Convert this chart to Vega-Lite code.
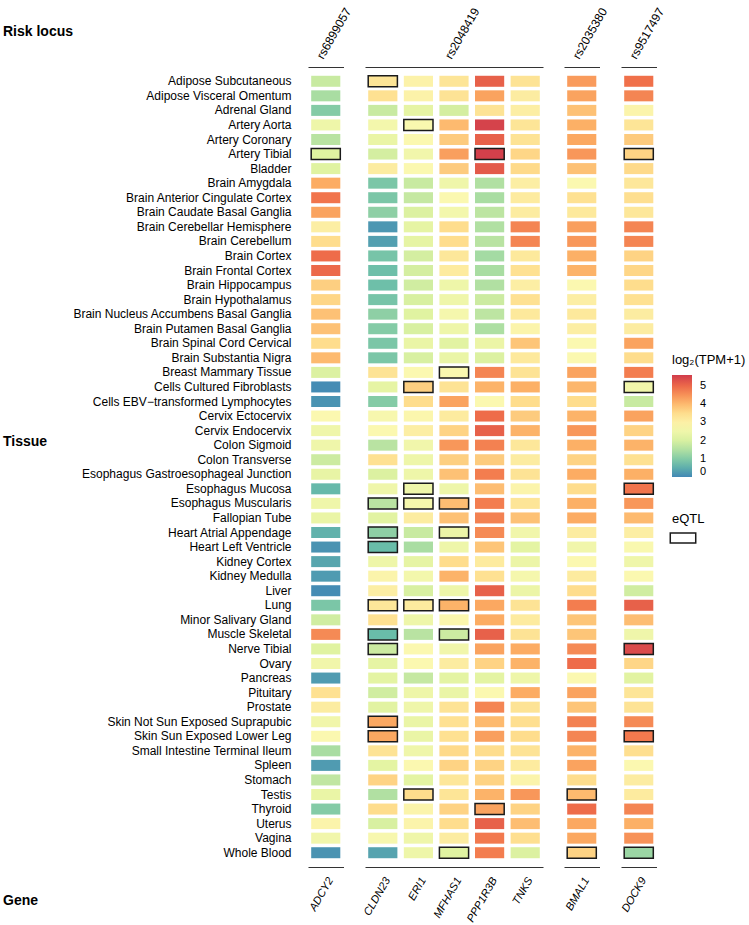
{
"$schema":"https://vega.github.io/schema/vega-lite/v6.json",
"padding":{"left":2,"top":5,"right":0,"bottom":0},
"config":{"font":"Liberation Sans","view":{"stroke":null},"axis":{"labelColor":"#000","titleColor":"#000","domainColor":"#333","labelFontSize":12},"legend":{"titleColor":"#000","labelColor":"#000"}},
"datasets":{
"loci":[{"gene":"ADCY2","locus":"rs6899057"},{"gene":"CLDN23","locus":"rs2048419"},{"gene":"ERI1","locus":"rs2048419"},{"gene":"MFHAS1","locus":"rs2048419"},{"gene":"PPP1R3B","locus":"rs2048419"},{"gene":"TNKS","locus":"rs2048419"},{"gene":"BMAL1","locus":"rs2035380"},{"gene":"DOCK9","locus":"rs9517497"}],
"eqtl":[{"tissue":"Adipose Subcutaneous","gene":"CLDN23"},{"tissue":"Artery Aorta","gene":"ERI1"},{"tissue":"Artery Tibial","gene":"ADCY2"},{"tissue":"Artery Tibial","gene":"PPP1R3B"},{"tissue":"Artery Tibial","gene":"DOCK9"},{"tissue":"Breast Mammary Tissue","gene":"MFHAS1"},{"tissue":"Cells Cultured Fibroblasts","gene":"ERI1"},{"tissue":"Cells Cultured Fibroblasts","gene":"DOCK9"},{"tissue":"Esophagus Mucosa","gene":"ERI1"},{"tissue":"Esophagus Mucosa","gene":"DOCK9"},{"tissue":"Esophagus Muscularis","gene":"CLDN23"},{"tissue":"Esophagus Muscularis","gene":"ERI1"},{"tissue":"Esophagus Muscularis","gene":"MFHAS1"},{"tissue":"Heart Atrial Appendage","gene":"CLDN23"},{"tissue":"Heart Atrial Appendage","gene":"MFHAS1"},{"tissue":"Heart Left Ventricle","gene":"CLDN23"},{"tissue":"Lung","gene":"CLDN23"},{"tissue":"Lung","gene":"ERI1"},{"tissue":"Lung","gene":"MFHAS1"},{"tissue":"Muscle Skeletal","gene":"CLDN23"},{"tissue":"Muscle Skeletal","gene":"MFHAS1"},{"tissue":"Nerve Tibial","gene":"CLDN23"},{"tissue":"Nerve Tibial","gene":"DOCK9"},{"tissue":"Skin Not Sun Exposed Suprapubic","gene":"CLDN23"},{"tissue":"Skin Sun Exposed Lower Leg","gene":"CLDN23"},{"tissue":"Skin Sun Exposed Lower Leg","gene":"DOCK9"},{"tissue":"Testis","gene":"ERI1"},{"tissue":"Testis","gene":"BMAL1"},{"tissue":"Thyroid","gene":"PPP1R3B"},{"tissue":"Whole Blood","gene":"MFHAS1"},{"tissue":"Whole Blood","gene":"BMAL1"},{"tissue":"Whole Blood","gene":"DOCK9"}],
"expr":[
{"tissue":"Adipose Subcutaneous","gene":"ADCY2","value":1.8},{"tissue":"Adipose Subcutaneous","gene":"CLDN23","value":3.3},{"tissue":"Adipose Subcutaneous","gene":"ERI1","value":2.95},{"tissue":"Adipose Subcutaneous","gene":"MFHAS1","value":3.3},{"tissue":"Adipose Subcutaneous","gene":"PPP1R3B","value":5.1},{"tissue":"Adipose Subcutaneous","gene":"TNKS","value":3.35},{"tissue":"Adipose Subcutaneous","gene":"BMAL1","value":4.4},{"tissue":"Adipose Subcutaneous","gene":"DOCK9","value":4.9},
{"tissue":"Adipose Visceral Omentum","gene":"ADCY2","value":1.4},{"tissue":"Adipose Visceral Omentum","gene":"CLDN23","value":3.4},{"tissue":"Adipose Visceral Omentum","gene":"ERI1","value":2.95},{"tissue":"Adipose Visceral Omentum","gene":"MFHAS1","value":3.35},{"tissue":"Adipose Visceral Omentum","gene":"PPP1R3B","value":4.3},{"tissue":"Adipose Visceral Omentum","gene":"TNKS","value":3.1},{"tissue":"Adipose Visceral Omentum","gene":"BMAL1","value":4.3},{"tissue":"Adipose Visceral Omentum","gene":"DOCK9","value":4.65},
{"tissue":"Adrenal Gland","gene":"ADCY2","value":1.0},{"tissue":"Adrenal Gland","gene":"CLDN23","value":1.8},{"tissue":"Adrenal Gland","gene":"ERI1","value":2.25},{"tissue":"Adrenal Gland","gene":"MFHAS1","value":1.95},{"tissue":"Adrenal Gland","gene":"PPP1R3B","value":3.35},{"tissue":"Adrenal Gland","gene":"TNKS","value":3.05},{"tissue":"Adrenal Gland","gene":"BMAL1","value":3.9},{"tissue":"Adrenal Gland","gene":"DOCK9","value":2.9},
{"tissue":"Artery Aorta","gene":"ADCY2","value":2.45},{"tissue":"Artery Aorta","gene":"CLDN23","value":2.6},{"tissue":"Artery Aorta","gene":"ERI1","value":2.75},{"tissue":"Artery Aorta","gene":"MFHAS1","value":4.0},{"tissue":"Artery Aorta","gene":"PPP1R3B","value":5.5},{"tissue":"Artery Aorta","gene":"TNKS","value":3.3},{"tissue":"Artery Aorta","gene":"BMAL1","value":4.15},{"tissue":"Artery Aorta","gene":"DOCK9","value":3.3},
{"tissue":"Artery Coronary","gene":"ADCY2","value":1.6},{"tissue":"Artery Coronary","gene":"CLDN23","value":2.35},{"tissue":"Artery Coronary","gene":"ERI1","value":2.8},{"tissue":"Artery Coronary","gene":"MFHAS1","value":3.75},{"tissue":"Artery Coronary","gene":"PPP1R3B","value":5.1},{"tissue":"Artery Coronary","gene":"TNKS","value":3.35},{"tissue":"Artery Coronary","gene":"BMAL1","value":4.25},{"tissue":"Artery Coronary","gene":"DOCK9","value":3.75},
{"tissue":"Artery Tibial","gene":"ADCY2","value":2.1},{"tissue":"Artery Tibial","gene":"CLDN23","value":1.95},{"tissue":"Artery Tibial","gene":"ERI1","value":2.55},{"tissue":"Artery Tibial","gene":"MFHAS1","value":4.35},{"tissue":"Artery Tibial","gene":"PPP1R3B","value":5.55},{"tissue":"Artery Tibial","gene":"TNKS","value":3.6},{"tissue":"Artery Tibial","gene":"BMAL1","value":4.45},{"tissue":"Artery Tibial","gene":"DOCK9","value":3.65},
{"tissue":"Bladder","gene":"ADCY2","value":2.1},{"tissue":"Bladder","gene":"CLDN23","value":3.1},{"tissue":"Bladder","gene":"ERI1","value":2.8},{"tissue":"Bladder","gene":"MFHAS1","value":3.75},{"tissue":"Bladder","gene":"PPP1R3B","value":5.2},{"tissue":"Bladder","gene":"TNKS","value":3.55},{"tissue":"Bladder","gene":"BMAL1","value":3.9},{"tissue":"Bladder","gene":"DOCK9","value":3.55},
{"tissue":"Brain Amygdala","gene":"ADCY2","value":4.2},{"tissue":"Brain Amygdala","gene":"CLDN23","value":0.9},{"tissue":"Brain Amygdala","gene":"ERI1","value":1.8},{"tissue":"Brain Amygdala","gene":"MFHAS1","value":2.5},{"tissue":"Brain Amygdala","gene":"PPP1R3B","value":1.5},{"tissue":"Brain Amygdala","gene":"TNKS","value":3.05},{"tissue":"Brain Amygdala","gene":"BMAL1","value":2.8},{"tissue":"Brain Amygdala","gene":"DOCK9","value":3.25},
{"tissue":"Brain Anterior Cingulate Cortex","gene":"ADCY2","value":4.85},{"tissue":"Brain Anterior Cingulate Cortex","gene":"CLDN23","value":0.9},{"tissue":"Brain Anterior Cingulate Cortex","gene":"ERI1","value":1.75},{"tissue":"Brain Anterior Cingulate Cortex","gene":"MFHAS1","value":2.8},{"tissue":"Brain Anterior Cingulate Cortex","gene":"PPP1R3B","value":1.4},{"tissue":"Brain Anterior Cingulate Cortex","gene":"TNKS","value":3.15},{"tissue":"Brain Anterior Cingulate Cortex","gene":"BMAL1","value":3.4},{"tissue":"Brain Anterior Cingulate Cortex","gene":"DOCK9","value":3.45},
{"tissue":"Brain Caudate Basal Ganglia","gene":"ADCY2","value":4.3},{"tissue":"Brain Caudate Basal Ganglia","gene":"CLDN23","value":1.1},{"tissue":"Brain Caudate Basal Ganglia","gene":"ERI1","value":2.05},{"tissue":"Brain Caudate Basal Ganglia","gene":"MFHAS1","value":2.6},{"tissue":"Brain Caudate Basal Ganglia","gene":"PPP1R3B","value":1.65},{"tissue":"Brain Caudate Basal Ganglia","gene":"TNKS","value":3.1},{"tissue":"Brain Caudate Basal Ganglia","gene":"BMAL1","value":3.2},{"tissue":"Brain Caudate Basal Ganglia","gene":"DOCK9","value":3.25},
{"tissue":"Brain Cerebellar Hemisphere","gene":"ADCY2","value":3.05},{"tissue":"Brain Cerebellar Hemisphere","gene":"CLDN23","value":0.2},{"tissue":"Brain Cerebellar Hemisphere","gene":"ERI1","value":2.25},{"tissue":"Brain Cerebellar Hemisphere","gene":"MFHAS1","value":3.5},{"tissue":"Brain Cerebellar Hemisphere","gene":"PPP1R3B","value":1.5},{"tissue":"Brain Cerebellar Hemisphere","gene":"TNKS","value":4.65},{"tissue":"Brain Cerebellar Hemisphere","gene":"BMAL1","value":4.35},{"tissue":"Brain Cerebellar Hemisphere","gene":"DOCK9","value":4.65},
{"tissue":"Brain Cerebellum","gene":"ADCY2","value":3.5},{"tissue":"Brain Cerebellum","gene":"CLDN23","value":0.3},{"tissue":"Brain Cerebellum","gene":"ERI1","value":2.25},{"tissue":"Brain Cerebellum","gene":"MFHAS1","value":3.5},{"tissue":"Brain Cerebellum","gene":"PPP1R3B","value":1.6},{"tissue":"Brain Cerebellum","gene":"TNKS","value":4.65},{"tissue":"Brain Cerebellum","gene":"BMAL1","value":4.45},{"tissue":"Brain Cerebellum","gene":"DOCK9","value":4.65},
{"tissue":"Brain Cortex","gene":"ADCY2","value":4.95},{"tissue":"Brain Cortex","gene":"CLDN23","value":0.85},{"tissue":"Brain Cortex","gene":"ERI1","value":1.95},{"tissue":"Brain Cortex","gene":"MFHAS1","value":3.25},{"tissue":"Brain Cortex","gene":"PPP1R3B","value":1.35},{"tissue":"Brain Cortex","gene":"TNKS","value":3.2},{"tissue":"Brain Cortex","gene":"BMAL1","value":4.15},{"tissue":"Brain Cortex","gene":"DOCK9","value":3.65},
{"tissue":"Brain Frontal Cortex","gene":"ADCY2","value":5.0},{"tissue":"Brain Frontal Cortex","gene":"CLDN23","value":0.75},{"tissue":"Brain Frontal Cortex","gene":"ERI1","value":1.95},{"tissue":"Brain Frontal Cortex","gene":"MFHAS1","value":3.15},{"tissue":"Brain Frontal Cortex","gene":"PPP1R3B","value":1.4},{"tissue":"Brain Frontal Cortex","gene":"TNKS","value":3.4},{"tissue":"Brain Frontal Cortex","gene":"BMAL1","value":4.1},{"tissue":"Brain Frontal Cortex","gene":"DOCK9","value":3.6},
{"tissue":"Brain Hippocampus","gene":"ADCY2","value":3.7},{"tissue":"Brain Hippocampus","gene":"CLDN23","value":0.75},{"tissue":"Brain Hippocampus","gene":"ERI1","value":1.9},{"tissue":"Brain Hippocampus","gene":"MFHAS1","value":2.45},{"tissue":"Brain Hippocampus","gene":"PPP1R3B","value":1.5},{"tissue":"Brain Hippocampus","gene":"TNKS","value":3.05},{"tissue":"Brain Hippocampus","gene":"BMAL1","value":2.8},{"tissue":"Brain Hippocampus","gene":"DOCK9","value":3.5},
{"tissue":"Brain Hypothalamus","gene":"ADCY2","value":3.6},{"tissue":"Brain Hypothalamus","gene":"CLDN23","value":0.85},{"tissue":"Brain Hypothalamus","gene":"ERI1","value":2.0},{"tissue":"Brain Hypothalamus","gene":"MFHAS1","value":2.5},{"tissue":"Brain Hypothalamus","gene":"PPP1R3B","value":1.85},{"tissue":"Brain Hypothalamus","gene":"TNKS","value":3.4},{"tissue":"Brain Hypothalamus","gene":"BMAL1","value":3.05},{"tissue":"Brain Hypothalamus","gene":"DOCK9","value":3.4},
{"tissue":"Brain Nucleus Accumbens Basal Ganglia","gene":"ADCY2","value":3.9},{"tissue":"Brain Nucleus Accumbens Basal Ganglia","gene":"CLDN23","value":1.1},{"tissue":"Brain Nucleus Accumbens Basal Ganglia","gene":"ERI1","value":2.1},{"tissue":"Brain Nucleus Accumbens Basal Ganglia","gene":"MFHAS1","value":2.65},{"tissue":"Brain Nucleus Accumbens Basal Ganglia","gene":"PPP1R3B","value":1.65},{"tissue":"Brain Nucleus Accumbens Basal Ganglia","gene":"TNKS","value":3.2},{"tissue":"Brain Nucleus Accumbens Basal Ganglia","gene":"BMAL1","value":3.2},{"tissue":"Brain Nucleus Accumbens Basal Ganglia","gene":"DOCK9","value":3.1},
{"tissue":"Brain Putamen Basal Ganglia","gene":"ADCY2","value":3.9},{"tissue":"Brain Putamen Basal Ganglia","gene":"CLDN23","value":1.0},{"tissue":"Brain Putamen Basal Ganglia","gene":"ERI1","value":2.0},{"tissue":"Brain Putamen Basal Ganglia","gene":"MFHAS1","value":2.45},{"tissue":"Brain Putamen Basal Ganglia","gene":"PPP1R3B","value":1.45},{"tissue":"Brain Putamen Basal Ganglia","gene":"TNKS","value":2.9},{"tissue":"Brain Putamen Basal Ganglia","gene":"BMAL1","value":3.05},{"tissue":"Brain Putamen Basal Ganglia","gene":"DOCK9","value":3.1},
{"tissue":"Brain Spinal Cord Cervical","gene":"ADCY2","value":3.5},{"tissue":"Brain Spinal Cord Cervical","gene":"CLDN23","value":0.9},{"tissue":"Brain Spinal Cord Cervical","gene":"ERI1","value":2.35},{"tissue":"Brain Spinal Cord Cervical","gene":"MFHAS1","value":2.15},{"tissue":"Brain Spinal Cord Cervical","gene":"PPP1R3B","value":2.4},{"tissue":"Brain Spinal Cord Cervical","gene":"TNKS","value":3.85},{"tissue":"Brain Spinal Cord Cervical","gene":"BMAL1","value":2.8},{"tissue":"Brain Spinal Cord Cervical","gene":"DOCK9","value":4.3},
{"tissue":"Brain Substantia Nigra","gene":"ADCY2","value":4.0},{"tissue":"Brain Substantia Nigra","gene":"CLDN23","value":0.9},{"tissue":"Brain Substantia Nigra","gene":"ERI1","value":2.0},{"tissue":"Brain Substantia Nigra","gene":"MFHAS1","value":2.35},{"tissue":"Brain Substantia Nigra","gene":"PPP1R3B","value":2.05},{"tissue":"Brain Substantia Nigra","gene":"TNKS","value":3.2},{"tissue":"Brain Substantia Nigra","gene":"BMAL1","value":2.8},{"tissue":"Brain Substantia Nigra","gene":"DOCK9","value":3.5},
{"tissue":"Breast Mammary Tissue","gene":"ADCY2","value":2.05},{"tissue":"Breast Mammary Tissue","gene":"CLDN23","value":3.35},{"tissue":"Breast Mammary Tissue","gene":"ERI1","value":2.8},{"tissue":"Breast Mammary Tissue","gene":"MFHAS1","value":2.75},{"tissue":"Breast Mammary Tissue","gene":"PPP1R3B","value":4.65},{"tissue":"Breast Mammary Tissue","gene":"TNKS","value":3.35},{"tissue":"Breast Mammary Tissue","gene":"BMAL1","value":4.3},{"tissue":"Breast Mammary Tissue","gene":"DOCK9","value":4.75},
{"tissue":"Cells Cultured Fibroblasts","gene":"ADCY2","value":0.05},{"tissue":"Cells Cultured Fibroblasts","gene":"CLDN23","value":2.25},{"tissue":"Cells Cultured Fibroblasts","gene":"ERI1","value":3.7},{"tissue":"Cells Cultured Fibroblasts","gene":"MFHAS1","value":3.35},{"tissue":"Cells Cultured Fibroblasts","gene":"PPP1R3B","value":4.1},{"tissue":"Cells Cultured Fibroblasts","gene":"TNKS","value":4.15},{"tissue":"Cells Cultured Fibroblasts","gene":"BMAL1","value":4.05},{"tissue":"Cells Cultured Fibroblasts","gene":"DOCK9","value":2.55},
{"tissue":"Cells EBV−transformed Lymphocytes","gene":"ADCY2","value":0.15},{"tissue":"Cells EBV−transformed Lymphocytes","gene":"CLDN23","value":1.0},{"tissue":"Cells EBV−transformed Lymphocytes","gene":"ERI1","value":3.5},{"tissue":"Cells EBV−transformed Lymphocytes","gene":"MFHAS1","value":4.3},{"tissue":"Cells EBV−transformed Lymphocytes","gene":"PPP1R3B","value":2.8},{"tissue":"Cells EBV−transformed Lymphocytes","gene":"TNKS","value":3.5},{"tissue":"Cells EBV−transformed Lymphocytes","gene":"BMAL1","value":3.5},{"tissue":"Cells EBV−transformed Lymphocytes","gene":"DOCK9","value":1.8},
{"tissue":"Cervix Ectocervix","gene":"ADCY2","value":2.8},{"tissue":"Cervix Ectocervix","gene":"CLDN23","value":2.7},{"tissue":"Cervix Ectocervix","gene":"ERI1","value":2.85},{"tissue":"Cervix Ectocervix","gene":"MFHAS1","value":3.15},{"tissue":"Cervix Ectocervix","gene":"PPP1R3B","value":4.95},{"tissue":"Cervix Ectocervix","gene":"TNKS","value":3.75},{"tissue":"Cervix Ectocervix","gene":"BMAL1","value":4.1},{"tissue":"Cervix Ectocervix","gene":"DOCK9","value":4.3},
{"tissue":"Cervix Endocervix","gene":"ADCY2","value":2.5},{"tissue":"Cervix Endocervix","gene":"CLDN23","value":2.8},{"tissue":"Cervix Endocervix","gene":"ERI1","value":3.05},{"tissue":"Cervix Endocervix","gene":"MFHAS1","value":3.65},{"tissue":"Cervix Endocervix","gene":"PPP1R3B","value":5.1},{"tissue":"Cervix Endocervix","gene":"TNKS","value":4.1},{"tissue":"Cervix Endocervix","gene":"BMAL1","value":4.45},{"tissue":"Cervix Endocervix","gene":"DOCK9","value":3.65},
{"tissue":"Colon Sigmoid","gene":"ADCY2","value":2.5},{"tissue":"Colon Sigmoid","gene":"CLDN23","value":1.6},{"tissue":"Colon Sigmoid","gene":"ERI1","value":2.55},{"tissue":"Colon Sigmoid","gene":"MFHAS1","value":4.45},{"tissue":"Colon Sigmoid","gene":"PPP1R3B","value":4.7},{"tissue":"Colon Sigmoid","gene":"TNKS","value":3.25},{"tissue":"Colon Sigmoid","gene":"BMAL1","value":4.15},{"tissue":"Colon Sigmoid","gene":"DOCK9","value":4.1},
{"tissue":"Colon Transverse","gene":"ADCY2","value":1.85},{"tissue":"Colon Transverse","gene":"CLDN23","value":3.4},{"tissue":"Colon Transverse","gene":"ERI1","value":2.45},{"tissue":"Colon Transverse","gene":"MFHAS1","value":3.7},{"tissue":"Colon Transverse","gene":"PPP1R3B","value":3.75},{"tissue":"Colon Transverse","gene":"TNKS","value":3.1},{"tissue":"Colon Transverse","gene":"BMAL1","value":3.65},{"tissue":"Colon Transverse","gene":"DOCK9","value":3.4},
{"tissue":"Esophagus Gastroesophageal Junction","gene":"ADCY2","value":2.3},{"tissue":"Esophagus Gastroesophageal Junction","gene":"CLDN23","value":2.05},{"tissue":"Esophagus Gastroesophageal Junction","gene":"ERI1","value":2.45},{"tissue":"Esophagus Gastroesophageal Junction","gene":"MFHAS1","value":3.9},{"tissue":"Esophagus Gastroesophageal Junction","gene":"PPP1R3B","value":4.75},{"tissue":"Esophagus Gastroesophageal Junction","gene":"TNKS","value":3.35},{"tissue":"Esophagus Gastroesophageal Junction","gene":"BMAL1","value":4.2},{"tissue":"Esophagus Gastroesophageal Junction","gene":"DOCK9","value":4.15},
{"tissue":"Esophagus Mucosa","gene":"ADCY2","value":0.65},{"tissue":"Esophagus Mucosa","gene":"CLDN23","value":2.5},{"tissue":"Esophagus Mucosa","gene":"ERI1","value":2.5},{"tissue":"Esophagus Mucosa","gene":"MFHAS1","value":2.45},{"tissue":"Esophagus Mucosa","gene":"PPP1R3B","value":3.95},{"tissue":"Esophagus Mucosa","gene":"TNKS","value":2.9},{"tissue":"Esophagus Mucosa","gene":"BMAL1","value":3.5},{"tissue":"Esophagus Mucosa","gene":"DOCK9","value":4.85},
{"tissue":"Esophagus Muscularis","gene":"ADCY2","value":2.5},{"tissue":"Esophagus Muscularis","gene":"CLDN23","value":1.6},{"tissue":"Esophagus Muscularis","gene":"ERI1","value":2.65},{"tissue":"Esophagus Muscularis","gene":"MFHAS1","value":3.95},{"tissue":"Esophagus Muscularis","gene":"PPP1R3B","value":4.75},{"tissue":"Esophagus Muscularis","gene":"TNKS","value":3.3},{"tissue":"Esophagus Muscularis","gene":"BMAL1","value":4.15},{"tissue":"Esophagus Muscularis","gene":"DOCK9","value":4.45},
{"tissue":"Fallopian Tube","gene":"ADCY2","value":2.35},{"tissue":"Fallopian Tube","gene":"CLDN23","value":2.15},{"tissue":"Fallopian Tube","gene":"ERI1","value":3.1},{"tissue":"Fallopian Tube","gene":"MFHAS1","value":3.9},{"tissue":"Fallopian Tube","gene":"PPP1R3B","value":4.7},{"tissue":"Fallopian Tube","gene":"TNKS","value":3.9},{"tissue":"Fallopian Tube","gene":"BMAL1","value":4.2},{"tissue":"Fallopian Tube","gene":"DOCK9","value":4.0},
{"tissue":"Heart Atrial Appendage","gene":"ADCY2","value":0.55},{"tissue":"Heart Atrial Appendage","gene":"CLDN23","value":1.1},{"tissue":"Heart Atrial Appendage","gene":"ERI1","value":1.8},{"tissue":"Heart Atrial Appendage","gene":"MFHAS1","value":2.4},{"tissue":"Heart Atrial Appendage","gene":"PPP1R3B","value":4.6},{"tissue":"Heart Atrial Appendage","gene":"TNKS","value":2.55},{"tissue":"Heart Atrial Appendage","gene":"BMAL1","value":3.1},{"tissue":"Heart Atrial Appendage","gene":"DOCK9","value":3.05},
{"tissue":"Heart Left Ventricle","gene":"ADCY2","value":0.15},{"tissue":"Heart Left Ventricle","gene":"CLDN23","value":0.7},{"tissue":"Heart Left Ventricle","gene":"ERI1","value":1.4},{"tissue":"Heart Left Ventricle","gene":"MFHAS1","value":2.45},{"tissue":"Heart Left Ventricle","gene":"PPP1R3B","value":3.85},{"tissue":"Heart Left Ventricle","gene":"TNKS","value":2.2},{"tissue":"Heart Left Ventricle","gene":"BMAL1","value":2.55},{"tissue":"Heart Left Ventricle","gene":"DOCK9","value":2.75},
{"tissue":"Kidney Cortex","gene":"ADCY2","value":0.4},{"tissue":"Kidney Cortex","gene":"CLDN23","value":2.45},{"tissue":"Kidney Cortex","gene":"ERI1","value":2.25},{"tissue":"Kidney Cortex","gene":"MFHAS1","value":3.5},{"tissue":"Kidney Cortex","gene":"PPP1R3B","value":3.15},{"tissue":"Kidney Cortex","gene":"TNKS","value":2.4},{"tissue":"Kidney Cortex","gene":"BMAL1","value":2.8},{"tissue":"Kidney Cortex","gene":"DOCK9","value":2.5},
{"tissue":"Kidney Medulla","gene":"ADCY2","value":0.25},{"tissue":"Kidney Medulla","gene":"CLDN23","value":2.9},{"tissue":"Kidney Medulla","gene":"ERI1","value":2.6},{"tissue":"Kidney Medulla","gene":"MFHAS1","value":4.1},{"tissue":"Kidney Medulla","gene":"PPP1R3B","value":3.4},{"tissue":"Kidney Medulla","gene":"TNKS","value":2.65},{"tissue":"Kidney Medulla","gene":"BMAL1","value":3.15},{"tissue":"Kidney Medulla","gene":"DOCK9","value":2.8},
{"tissue":"Liver","gene":"ADCY2","value":0.05},{"tissue":"Liver","gene":"CLDN23","value":3.05},{"tissue":"Liver","gene":"ERI1","value":2.0},{"tissue":"Liver","gene":"MFHAS1","value":2.45},{"tissue":"Liver","gene":"PPP1R3B","value":5.1},{"tissue":"Liver","gene":"TNKS","value":2.4},{"tissue":"Liver","gene":"BMAL1","value":3.5},{"tissue":"Liver","gene":"DOCK9","value":1.9},
{"tissue":"Lung","gene":"ADCY2","value":0.9},{"tissue":"Lung","gene":"CLDN23","value":3.25},{"tissue":"Lung","gene":"ERI1","value":3.15},{"tissue":"Lung","gene":"MFHAS1","value":4.1},{"tissue":"Lung","gene":"PPP1R3B","value":4.25},{"tissue":"Lung","gene":"TNKS","value":3.35},{"tissue":"Lung","gene":"BMAL1","value":4.75},{"tissue":"Lung","gene":"DOCK9","value":5.1},
{"tissue":"Minor Salivary Gland","gene":"ADCY2","value":1.9},{"tissue":"Minor Salivary Gland","gene":"CLDN23","value":3.4},{"tissue":"Minor Salivary Gland","gene":"ERI1","value":2.45},{"tissue":"Minor Salivary Gland","gene":"MFHAS1","value":2.85},{"tissue":"Minor Salivary Gland","gene":"PPP1R3B","value":4.2},{"tissue":"Minor Salivary Gland","gene":"TNKS","value":3.15},{"tissue":"Minor Salivary Gland","gene":"BMAL1","value":3.85},{"tissue":"Minor Salivary Gland","gene":"DOCK9","value":3.95},
{"tissue":"Muscle Skeletal","gene":"ADCY2","value":4.6},{"tissue":"Muscle Skeletal","gene":"CLDN23","value":0.7},{"tissue":"Muscle Skeletal","gene":"ERI1","value":1.6},{"tissue":"Muscle Skeletal","gene":"MFHAS1","value":1.85},{"tissue":"Muscle Skeletal","gene":"PPP1R3B","value":5.1},{"tissue":"Muscle Skeletal","gene":"TNKS","value":3.35},{"tissue":"Muscle Skeletal","gene":"BMAL1","value":3.85},{"tissue":"Muscle Skeletal","gene":"DOCK9","value":2.5},
{"tissue":"Nerve Tibial","gene":"ADCY2","value":2.1},{"tissue":"Nerve Tibial","gene":"CLDN23","value":1.85},{"tissue":"Nerve Tibial","gene":"ERI1","value":2.8},{"tissue":"Nerve Tibial","gene":"MFHAS1","value":2.55},{"tissue":"Nerve Tibial","gene":"PPP1R3B","value":4.3},{"tissue":"Nerve Tibial","gene":"TNKS","value":4.2},{"tissue":"Nerve Tibial","gene":"BMAL1","value":4.6},{"tissue":"Nerve Tibial","gene":"DOCK9","value":5.4},
{"tissue":"Ovary","gene":"ADCY2","value":2.55},{"tissue":"Ovary","gene":"CLDN23","value":2.25},{"tissue":"Ovary","gene":"ERI1","value":2.8},{"tissue":"Ovary","gene":"MFHAS1","value":3.1},{"tissue":"Ovary","gene":"PPP1R3B","value":3.65},{"tissue":"Ovary","gene":"TNKS","value":4.1},{"tissue":"Ovary","gene":"BMAL1","value":4.95},{"tissue":"Ovary","gene":"DOCK9","value":3.6},
{"tissue":"Pancreas","gene":"ADCY2","value":0.25},{"tissue":"Pancreas","gene":"CLDN23","value":2.2},{"tissue":"Pancreas","gene":"ERI1","value":1.75},{"tissue":"Pancreas","gene":"MFHAS1","value":2.2},{"tissue":"Pancreas","gene":"PPP1R3B","value":2.2},{"tissue":"Pancreas","gene":"TNKS","value":2.45},{"tissue":"Pancreas","gene":"BMAL1","value":2.8},{"tissue":"Pancreas","gene":"DOCK9","value":2.15},
{"tissue":"Pituitary","gene":"ADCY2","value":3.4},{"tissue":"Pituitary","gene":"CLDN23","value":1.9},{"tissue":"Pituitary","gene":"ERI1","value":2.45},{"tissue":"Pituitary","gene":"MFHAS1","value":2.35},{"tissue":"Pituitary","gene":"PPP1R3B","value":2.8},{"tissue":"Pituitary","gene":"TNKS","value":4.2},{"tissue":"Pituitary","gene":"BMAL1","value":4.3},{"tissue":"Pituitary","gene":"DOCK9","value":3.3},
{"tissue":"Prostate","gene":"ADCY2","value":3.1},{"tissue":"Prostate","gene":"CLDN23","value":2.15},{"tissue":"Prostate","gene":"ERI1","value":2.5},{"tissue":"Prostate","gene":"MFHAS1","value":3.35},{"tissue":"Prostate","gene":"PPP1R3B","value":4.65},{"tissue":"Prostate","gene":"TNKS","value":3.35},{"tissue":"Prostate","gene":"BMAL1","value":3.85},{"tissue":"Prostate","gene":"DOCK9","value":3.35},
{"tissue":"Skin Not Sun Exposed Suprapubic","gene":"ADCY2","value":2.55},{"tissue":"Skin Not Sun Exposed Suprapubic","gene":"CLDN23","value":4.25},{"tissue":"Skin Not Sun Exposed Suprapubic","gene":"ERI1","value":2.35},{"tissue":"Skin Not Sun Exposed Suprapubic","gene":"MFHAS1","value":3.4},{"tissue":"Skin Not Sun Exposed Suprapubic","gene":"PPP1R3B","value":4.0},{"tissue":"Skin Not Sun Exposed Suprapubic","gene":"TNKS","value":3.45},{"tissue":"Skin Not Sun Exposed Suprapubic","gene":"BMAL1","value":4.7},{"tissue":"Skin Not Sun Exposed Suprapubic","gene":"DOCK9","value":4.6},
{"tissue":"Skin Sun Exposed Lower Leg","gene":"ADCY2","value":2.8},{"tissue":"Skin Sun Exposed Lower Leg","gene":"CLDN23","value":4.25},{"tissue":"Skin Sun Exposed Lower Leg","gene":"ERI1","value":2.35},{"tissue":"Skin Sun Exposed Lower Leg","gene":"MFHAS1","value":3.4},{"tissue":"Skin Sun Exposed Lower Leg","gene":"PPP1R3B","value":4.35},{"tissue":"Skin Sun Exposed Lower Leg","gene":"TNKS","value":3.5},{"tissue":"Skin Sun Exposed Lower Leg","gene":"BMAL1","value":4.65},{"tissue":"Skin Sun Exposed Lower Leg","gene":"DOCK9","value":4.8},
{"tissue":"Small Intestine Terminal Ileum","gene":"ADCY2","value":1.4},{"tissue":"Small Intestine Terminal Ileum","gene":"CLDN23","value":3.35},{"tissue":"Small Intestine Terminal Ileum","gene":"ERI1","value":2.5},{"tissue":"Small Intestine Terminal Ileum","gene":"MFHAS1","value":3.55},{"tissue":"Small Intestine Terminal Ileum","gene":"PPP1R3B","value":3.5},{"tissue":"Small Intestine Terminal Ileum","gene":"TNKS","value":3.35},{"tissue":"Small Intestine Terminal Ileum","gene":"BMAL1","value":4.1},{"tissue":"Small Intestine Terminal Ileum","gene":"DOCK9","value":3.45},
{"tissue":"Spleen","gene":"ADCY2","value":0.25},{"tissue":"Spleen","gene":"CLDN23","value":2.2},{"tissue":"Spleen","gene":"ERI1","value":2.8},{"tissue":"Spleen","gene":"MFHAS1","value":3.65},{"tissue":"Spleen","gene":"PPP1R3B","value":3.65},{"tissue":"Spleen","gene":"TNKS","value":3.15},{"tissue":"Spleen","gene":"BMAL1","value":4.3},{"tissue":"Spleen","gene":"DOCK9","value":2.8},
{"tissue":"Stomach","gene":"ADCY2","value":1.7},{"tissue":"Stomach","gene":"CLDN23","value":3.65},{"tissue":"Stomach","gene":"ERI1","value":2.2},{"tissue":"Stomach","gene":"MFHAS1","value":3.25},{"tissue":"Stomach","gene":"PPP1R3B","value":3.65},{"tissue":"Stomach","gene":"TNKS","value":2.9},{"tissue":"Stomach","gene":"BMAL1","value":3.5},{"tissue":"Stomach","gene":"DOCK9","value":3.1},
{"tissue":"Testis","gene":"ADCY2","value":2.35},{"tissue":"Testis","gene":"CLDN23","value":1.5},{"tissue":"Testis","gene":"ERI1","value":3.5},{"tissue":"Testis","gene":"MFHAS1","value":3.3},{"tissue":"Testis","gene":"PPP1R3B","value":4.1},{"tissue":"Testis","gene":"TNKS","value":4.45},{"tissue":"Testis","gene":"BMAL1","value":4.0},{"tissue":"Testis","gene":"DOCK9","value":3.15},
{"tissue":"Thyroid","gene":"ADCY2","value":1.0},{"tissue":"Thyroid","gene":"CLDN23","value":3.5},{"tissue":"Thyroid","gene":"ERI1","value":2.9},{"tissue":"Thyroid","gene":"MFHAS1","value":3.65},{"tissue":"Thyroid","gene":"PPP1R3B","value":4.3},{"tissue":"Thyroid","gene":"TNKS","value":3.65},{"tissue":"Thyroid","gene":"BMAL1","value":4.95},{"tissue":"Thyroid","gene":"DOCK9","value":4.65},
{"tissue":"Uterus","gene":"ADCY2","value":2.9},{"tissue":"Uterus","gene":"CLDN23","value":2.0},{"tissue":"Uterus","gene":"ERI1","value":2.9},{"tissue":"Uterus","gene":"MFHAS1","value":3.5},{"tissue":"Uterus","gene":"PPP1R3B","value":5.1},{"tissue":"Uterus","gene":"TNKS","value":3.95},{"tissue":"Uterus","gene":"BMAL1","value":4.25},{"tissue":"Uterus","gene":"DOCK9","value":4.15},
{"tissue":"Vagina","gene":"ADCY2","value":2.55},{"tissue":"Vagina","gene":"CLDN23","value":2.7},{"tissue":"Vagina","gene":"ERI1","value":2.5},{"tissue":"Vagina","gene":"MFHAS1","value":3.1},{"tissue":"Vagina","gene":"PPP1R3B","value":4.8},{"tissue":"Vagina","gene":"TNKS","value":3.45},{"tissue":"Vagina","gene":"BMAL1","value":4.25},{"tissue":"Vagina","gene":"DOCK9","value":4.5},
{"tissue":"Whole Blood","gene":"ADCY2","value":0.15},{"tissue":"Whole Blood","gene":"CLDN23","value":0.35},{"tissue":"Whole Blood","gene":"ERI1","value":2.45},{"tissue":"Whole Blood","gene":"MFHAS1","value":2.1},{"tissue":"Whole Blood","gene":"PPP1R3B","value":4.75},{"tissue":"Whole Blood","gene":"TNKS","value":2.05},{"tissue":"Whole Blood","gene":"BMAL1","value":3.65},{"tissue":"Whole Blood","gene":"DOCK9","value":1.25}
]},
"data":{"name":"expr"},
"spacing":21,
"bounds":"flush",
"resolve":{"scale":{"color":"shared","stroke":"shared"}},
"hconcat":[
{"width":35.5,"height":786,"resolve":{"scale":{"x":"independent"}},
"layer":[
{"transform":[{"filter":{"field":"gene","oneOf":["ADCY2"]}}],"mark":{"type":"rect"},
"encoding":{
"x":{"field":"gene","type":"nominal","scale":{"domain":["ADCY2"],"paddingInner":0.18,"paddingOuter":0.09},"axis":{"orient":"bottom","title":"Gene","labelAngle":-60,"labelAlign":"right","labelBaseline":"top","labelFontStyle":"italic","labelFontSize":11,"ticks":false,"tickSize":0,"labelPadding":8,"offset":7,"titleX":-305.5,"titleY":33,"titleAlign":"left","titleBaseline":"middle","titleAngle":0,"titleFontSize":14,"titleFontWeight":"bold"}},
"y":{"field":"tissue","type":"nominal","scale":{"paddingInner":0.244,"paddingOuter":0.122},"axis":{"title":"Tissue","ticks":false,"tickSize":0,"domain":false,"labelPadding":17,"labelLimit":400,"titleAngle":0,"titleX":-305.5,"titleY":367,"titleAlign":"left","titleBaseline":"middle","titleFontSize":14,"titleFontWeight":"bold"}},
"color":{"field":"value","type":"quantitative","scale":{"scheme":{"name":"spectral","extent":[0.9,0.1]},"domain":[0,5.6]},"legend":{"orient":"none","legendX":364,"legendY":280,"title":"log₂(TPM+1)","titleFontSize":13,"titleFontWeight":"normal","titlePadding":8,"gradientLength":102,"gradientThickness":20,"gradientStrokeWidth":0,"labelFontSize":11,"labelOffset":8,"values":[0,1,2,3,4,5],"direction":"vertical"}}}},
{"data":{"name":"eqtl"},"transform":[{"filter":{"field":"gene","oneOf":["ADCY2"]}}],"mark":{"type":"rect","filled":false,"strokeWidth":1.5},
"encoding":{
"x":{"field":"gene","type":"nominal","scale":{"domain":["ADCY2"],"paddingInner":0.18,"paddingOuter":0.09},"axis":null},
"y":{"field":"tissue","type":"nominal"},
"stroke":{"datum":"eQTL","type":"nominal","scale":{"domain":["eQTL"],"range":["#1a1a1a"]},"legend":{"orient":"none","legendX":364,"legendY":439,"title":"eQTL","titleFontSize":13,"titleFontWeight":"normal","titlePadding":4,"symbolType":"M-1.8,-0.7H1.8V0.7H-1.8Z","symbolSize":200,"symbolStrokeWidth":1.5,"symbolOffset":3,"labelExpr":"''"}}}},
{"data":{"name":"loci"},"transform":[{"filter":{"field":"gene","oneOf":["ADCY2"]}}],"mark":{"type":"rect","opacity":0},
"encoding":{"x":{"field":"locus","type":"nominal","scale":{"paddingInner":0,"paddingOuter":0},"axis":{"orient":"top","title":"Risk locus","labelAngle":-60,"labelAlign":"left","labelBaseline":"bottom","ticks":false,"tickSize":0,"labelPadding":6,"offset":7,"titleX":-305.5,"titleY":-36,"titleAlign":"left","titleBaseline":"middle","titleAngle":0,"titleFontSize":14,"titleFontWeight":"bold"}}}}
]},
{"width":178,"height":786,"resolve":{"scale":{"x":"independent"}},
"layer":[
{"transform":[{"filter":{"field":"gene","oneOf":["CLDN23","ERI1","MFHAS1","PPP1R3B","TNKS"]}}],"mark":{"type":"rect"},
"encoding":{
"x":{"field":"gene","type":"nominal","scale":{"domain":["CLDN23","ERI1","MFHAS1","PPP1R3B","TNKS"],"paddingInner":0.18,"paddingOuter":0.09},"axis":{"orient":"bottom","title":null,"labelAngle":-60,"labelAlign":"right","labelBaseline":"top","labelFontStyle":"italic","labelFontSize":11,"ticks":false,"tickSize":0,"labelPadding":8,"offset":7}},
"y":{"field":"tissue","type":"nominal","scale":{"paddingInner":0.244,"paddingOuter":0.122},"axis":null},
"color":{"field":"value","type":"quantitative","scale":{"scheme":{"name":"spectral","extent":[0.9,0.1]},"domain":[0,5.6]}}}},
{"data":{"name":"eqtl"},"transform":[{"filter":{"field":"gene","oneOf":["CLDN23","ERI1","MFHAS1","PPP1R3B","TNKS"]}}],"mark":{"type":"rect","filled":false,"strokeWidth":1.5},
"encoding":{
"x":{"field":"gene","type":"nominal","scale":{"domain":["CLDN23","ERI1","MFHAS1","PPP1R3B","TNKS"],"paddingInner":0.18,"paddingOuter":0.09},"axis":null},
"y":{"field":"tissue","type":"nominal","axis":null},
"stroke":{"datum":"eQTL","type":"nominal","scale":{"domain":["eQTL"],"range":["#1a1a1a"]}}}},
{"data":{"name":"loci"},"transform":[{"filter":{"field":"gene","oneOf":["CLDN23","ERI1","MFHAS1","PPP1R3B","TNKS"]}}],"mark":{"type":"rect","opacity":0},
"encoding":{"x":{"field":"locus","type":"nominal","scale":{"paddingInner":0,"paddingOuter":0},"axis":{"orient":"top","title":null,"labelAngle":-60,"labelAlign":"left","labelBaseline":"bottom","ticks":false,"tickSize":0,"labelPadding":6,"offset":7}}}}
]},
{"width":35.5,"height":786,"resolve":{"scale":{"x":"independent"}},
"layer":[
{"transform":[{"filter":{"field":"gene","oneOf":["BMAL1"]}}],"mark":{"type":"rect"},
"encoding":{
"x":{"field":"gene","type":"nominal","scale":{"domain":["BMAL1"],"paddingInner":0.18,"paddingOuter":0.09},"axis":{"orient":"bottom","title":null,"labelAngle":-60,"labelAlign":"right","labelBaseline":"top","labelFontStyle":"italic","labelFontSize":11,"ticks":false,"tickSize":0,"labelPadding":8,"offset":7}},
"y":{"field":"tissue","type":"nominal","scale":{"paddingInner":0.244,"paddingOuter":0.122},"axis":null},
"color":{"field":"value","type":"quantitative","scale":{"scheme":{"name":"spectral","extent":[0.9,0.1]},"domain":[0,5.6]}}}},
{"data":{"name":"eqtl"},"transform":[{"filter":{"field":"gene","oneOf":["BMAL1"]}}],"mark":{"type":"rect","filled":false,"strokeWidth":1.5},
"encoding":{
"x":{"field":"gene","type":"nominal","scale":{"domain":["BMAL1"],"paddingInner":0.18,"paddingOuter":0.09},"axis":null},
"y":{"field":"tissue","type":"nominal","axis":null},
"stroke":{"datum":"eQTL","type":"nominal","scale":{"domain":["eQTL"],"range":["#1a1a1a"]}}}},
{"data":{"name":"loci"},"transform":[{"filter":{"field":"gene","oneOf":["BMAL1"]}}],"mark":{"type":"rect","opacity":0},
"encoding":{"x":{"field":"locus","type":"nominal","scale":{"paddingInner":0,"paddingOuter":0},"axis":{"orient":"top","title":null,"labelAngle":-60,"labelAlign":"left","labelBaseline":"bottom","ticks":false,"tickSize":0,"labelPadding":6,"offset":7}}}}
]},
{"width":35.5,"height":786,"resolve":{"scale":{"x":"independent"}},
"layer":[
{"transform":[{"filter":{"field":"gene","oneOf":["DOCK9"]}}],"mark":{"type":"rect"},
"encoding":{
"x":{"field":"gene","type":"nominal","scale":{"domain":["DOCK9"],"paddingInner":0.18,"paddingOuter":0.09},"axis":{"orient":"bottom","title":null,"labelAngle":-60,"labelAlign":"right","labelBaseline":"top","labelFontStyle":"italic","labelFontSize":11,"ticks":false,"tickSize":0,"labelPadding":8,"offset":7}},
"y":{"field":"tissue","type":"nominal","scale":{"paddingInner":0.244,"paddingOuter":0.122},"axis":null},
"color":{"field":"value","type":"quantitative","scale":{"scheme":{"name":"spectral","extent":[0.9,0.1]},"domain":[0,5.6]}}}},
{"data":{"name":"eqtl"},"transform":[{"filter":{"field":"gene","oneOf":["DOCK9"]}}],"mark":{"type":"rect","filled":false,"strokeWidth":1.5},
"encoding":{
"x":{"field":"gene","type":"nominal","scale":{"domain":["DOCK9"],"paddingInner":0.18,"paddingOuter":0.09},"axis":null},
"y":{"field":"tissue","type":"nominal","axis":null},
"stroke":{"datum":"eQTL","type":"nominal","scale":{"domain":["eQTL"],"range":["#1a1a1a"]}}}},
{"data":{"name":"loci"},"transform":[{"filter":{"field":"gene","oneOf":["DOCK9"]}}],"mark":{"type":"rect","opacity":0},
"encoding":{"x":{"field":"locus","type":"nominal","scale":{"paddingInner":0,"paddingOuter":0},"axis":{"orient":"top","title":null,"labelAngle":-60,"labelAlign":"left","labelBaseline":"bottom","ticks":false,"tickSize":0,"labelPadding":6,"offset":7}}}}
]}
]
}
